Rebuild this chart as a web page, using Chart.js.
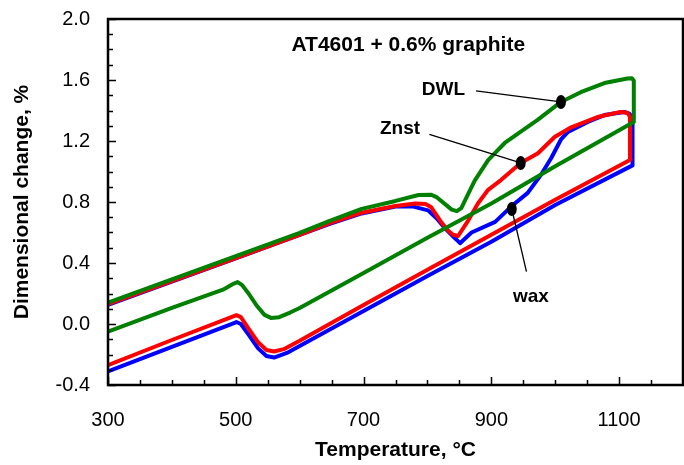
<!DOCTYPE html>
<html>
<head>
<meta charset="utf-8">
<script src="https://cdn.jsdelivr.net/npm/chart.js@4/dist/chart.umd.min.js"></script>
<style>
html,body{margin:0;padding:0;background:#fff;}
#wrap{width:684px;height:465px;position:relative;}
</style>
</head>
<body>
<div id="wrap"><canvas id="c" width="684" height="465"></canvas></div>
<script>
// ---- axis tick labels ----
const xTickLabels = [300, 500, 700, 900, 1100];
const yTickLabels = [-0.4, 0.0, 0.4, 0.8, 1.2, 1.6, 2.0];

// ---- DWL (green): heating, hold, cooling ----
const dwlTemp = [300,400,480,497,503,510,520,532,545,555,568,585,600,700,800,900,1000,1123,
  1123,1120,1113,1077,1040,1009,973,921,895,874,860,853,846,838,815,806,786,750,697,646,600,500,300];
const dwlChange = [-0.05,0.105,0.225,0.265,0.275,0.255,0.20,0.125,0.06,0.04,0.045,0.075,0.105,0.335,0.565,0.79,1.035,1.325,
  1.595,1.612,1.61,1.58,1.52,1.456,1.34,1.187,1.075,0.94,0.82,0.76,0.74,0.75,0.83,0.848,0.846,0.807,0.755,0.675,0.597,0.445,0.14];

// ---- Znst (red) ----
const znstTemp = [300,400,490,501,508,520,535,548,560,575,600,700,800,900,1000,1117,
  1117,1113,1102,1066,1025,999,973,946,915,895,879,864,848,840,833,822,806,797,781,750,697,646,600,500,300];
const znstChange = [-0.27,-0.105,0.04,0.058,0.045,-0.03,-0.12,-0.17,-0.18,-0.165,-0.11,0.125,0.355,0.585,0.815,1.075,
  1.36,1.385,1.39,1.357,1.29,1.226,1.12,1.056,0.944,0.88,0.79,0.68,0.577,0.585,0.61,0.665,0.765,0.787,0.79,0.774,0.73,0.66,0.585,0.432,0.13];

// ---- wax (blue) ----
const waxTemp = [300,400,490,501,508,520,535,548,560,580,600,700,800,900,1000,1121,
  1121,1116,1108,1077,1051,1020,1009,994,978,957,931,906,869,851,840,828,815,801,778,750,697,646,600,500,300];
const waxChange = [-0.31,-0.15,-0.005,0.013,0.0,-0.07,-0.16,-0.21,-0.22,-0.19,-0.145,0.085,0.315,0.54,0.78,1.04,
  1.35,1.38,1.39,1.37,1.325,1.26,1.21,1.09,0.98,0.86,0.77,0.67,0.60,0.53,0.575,0.625,0.69,0.745,0.77,0.77,0.725,0.655,0.585,0.43,0.125];

// ---- callout labels (text, label anchor, line start, marker point on curve) ----
const calloutText = ["DWL", "Znst", "wax"];
const calloutLabelAt = [[825, 1.534], [757, 1.28], [962, 0.18]];
const calloutLineFrom = [[876, 1.528], [803, 1.244], [955, 0.343]];
const calloutMarkerAt = [[1009, 1.456], [946, 1.056], [932, 0.754]];
const chartTitle = "AT4601 + 0.6% graphite";
const chartTitleAt = [770, 1.83];

const toPts = (xs, ys) => xs.map((x, i) => ({x: x, y: ys[i]}));

Chart.defaults.font.family = "'Liberation Sans', Arial, sans-serif";
Chart.defaults.color = '#000';

const deco = {
  id: 'deco',
  afterDatasetsDraw(chart) {
    const {ctx, chartArea: a, scales: {x, y}} = chart;
    ctx.save();
    // inward tick marks
    ctx.strokeStyle = '#000';
    ctx.lineWidth = 1.5;
    ctx.beginPath();
    for (let v = 300; v <= 1200; v += 50) {
      const px = Math.round(x.getPixelForValue(v)) + 0.5;
      const len = xTickLabels.includes(v) ? 8 : 5;
      ctx.moveTo(px, a.bottom); ctx.lineTo(px, a.bottom - len);
    }
    for (let k = -4; k <= 20; k++) {
      const py = Math.round(y.getPixelForValue(k / 10)) + 0.5;
      const len = (k % 4 === 0) ? 8 : 5;
      ctx.moveTo(a.left, py); ctx.lineTo(a.left + len, py);
    }
    ctx.stroke();
    // frame
    ctx.lineWidth = 2.5;
    ctx.strokeRect(a.left, a.top, a.right - a.left, a.bottom - a.top);
    // title
    ctx.fillStyle = '#000';
    ctx.font = "bold 21px 'Liberation Sans', Arial, sans-serif";
    ctx.textAlign = 'center';
    ctx.textBaseline = 'middle';
    ctx.fillText(chartTitle, x.getPixelForValue(chartTitleAt[0]), y.getPixelForValue(chartTitleAt[1]));
    // callouts
    ctx.font = "bold 19px 'Liberation Sans', Arial, sans-serif";
    calloutText.forEach((t, i) => {
      const lx = x.getPixelForValue(calloutLabelAt[i][0]), ly = y.getPixelForValue(calloutLabelAt[i][1]);
      const fx = x.getPixelForValue(calloutLineFrom[i][0]), fy = y.getPixelForValue(calloutLineFrom[i][1]);
      const mx = x.getPixelForValue(calloutMarkerAt[i][0]), my = y.getPixelForValue(calloutMarkerAt[i][1]);
      ctx.lineWidth = 1.3;
      ctx.beginPath(); ctx.moveTo(fx, fy); ctx.lineTo(mx, my); ctx.stroke();
      ctx.beginPath(); ctx.ellipse(mx, my, 5, 7, 0, 0, Math.PI * 2); ctx.fill();
      ctx.fillText(t, lx, ly);
    });
    ctx.restore();
  }
};

const lineDs = (label, xs, ys, color) => ({
  label, data: toPts(xs, ys), borderColor: color, backgroundColor: color,
  borderWidth: 4, pointRadius: 0, showLine: true, tension: 0, fill: false,
  borderJoinStyle: 'round', borderCapStyle: 'round'
});

new Chart(document.getElementById('c'), {
  type: 'scatter',
  data: {
    datasets: [
      lineDs('DWL', dwlTemp, dwlChange, '#008000'),
      lineDs('Znst', znstTemp, znstChange, '#ff0000'),
      lineDs('wax', waxTemp, waxChange, '#0000ff')
    ]
  },
  options: {
    responsive: false,
    animation: false,
    devicePixelRatio: 1,
    layout: {padding: {top: 19, right: 1, left: 0, bottom: 0}},
    plugins: {legend: {display: false}, tooltip: {enabled: false}},
    scales: {
      x: {
        type: 'linear', min: 300, max: 1200,
        afterBuildTicks: s => { s.ticks = xTickLabels.map(v => ({value: v})); },
        afterFit: s => { s.height = 80; s.paddingLeft = 0; s.paddingRight = 0; },
        grid: {display: false, drawTicks: false},
        border: {display: false},
        ticks: {font: {size: 20}, color: '#000', padding: 23, maxRotation: 0, autoSkip: false,
                callback: v => String(v)},
        title: {display: true, text: 'Temperature, °C', color: '#000',
                font: {size: 21, weight: 'bold'}, padding: {top: 0, bottom: 2}}
      },
      y: {
        type: 'linear', min: -0.4, max: 2.0,
        afterBuildTicks: s => { s.ticks = yTickLabels.map(v => ({value: v})); },
        afterFit: s => { s.width = 108; s.paddingTop = 0; s.paddingBottom = 0; },
        grid: {display: false, drawTicks: false},
        border: {display: false},
        ticks: {font: {size: 20}, color: '#000', padding: 18, autoSkip: false,
                callback: v => Number(v).toFixed(1)},
        title: {display: true, text: 'Dimensional change, %', color: '#000',
                font: {size: 21, weight: 'bold'}, padding: {top: 10, bottom: 0}}
      }
    }
  },
  plugins: [deco]
});
</script>
</body>
</html>
